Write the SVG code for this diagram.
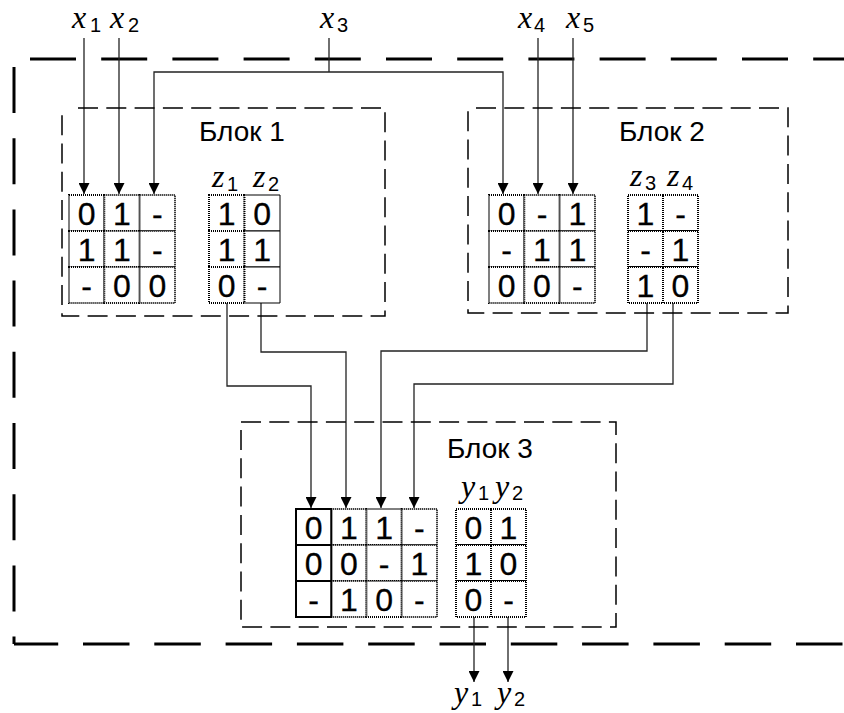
<svg xmlns="http://www.w3.org/2000/svg" width="844" height="713" viewBox="0 0 844 713">
<style>
.outer{fill:none;stroke:#000;stroke-width:3;stroke-dasharray:46 25.2}
.blk{fill:none;stroke:#000;stroke-width:1.5;stroke-dasharray:20 8.3}
.cell{fill:#fff;stroke:#000;stroke-width:2;stroke-dasharray:1 1}
.d{font-family:"Liberation Sans",Arial,sans-serif;font-size:32px;text-anchor:middle;fill:#000;stroke:#000;stroke-width:0.3}
.lbl{font-family:"Liberation Sans",Arial,sans-serif;font-size:28px;fill:#000}
.v{font-family:"Liberation Serif","Times New Roman",serif;font-style:italic;font-size:32px;fill:#000}
.s{font-family:"Liberation Sans",Arial,sans-serif;font-style:normal;font-size:20px}
.c{fill:none;stroke:#222;stroke-width:1.3}
</style>
<defs>
<marker id="ar" markerUnits="userSpaceOnUse" markerWidth="11" markerHeight="11" refX="11" refY="5.5" orient="auto">
<path d="M0 0 L11 5.5 L0 11 Z" fill="#000"/>
</marker>
</defs>
<rect width="844" height="713" fill="#fff"/>
<g id="outer-border">
<path class="outer" d="M14 59 H844" style="stroke-dashoffset:55.2"/>
<path class="outer" d="M14 59 V644" style="stroke-dashoffset:63.2"/>
<path class="outer" d="M14 644 H844" style="stroke-dasharray:46.5 24.8;stroke-dashoffset:2.3"/>
</g>
<g id="connectors">
<path class="c" d="M84 38 V194" marker-end="url(#ar)"/>
<path class="c" d="M119 38 V194" marker-end="url(#ar)"/>
<path class="c" d="M329 38 V72"/>
<path class="c" d="M329 72 H154 V194" marker-end="url(#ar)"/>
<path class="c" d="M329 72 H503 V194" marker-end="url(#ar)"/>
<path class="c" d="M538 38 V194" marker-end="url(#ar)"/>
<path class="c" d="M573 38 V194" marker-end="url(#ar)"/>
<path class="c" d="M227 303 V386 H311 V508" marker-end="url(#ar)"/>
<path class="c" d="M261 303 V352 H346 V508" marker-end="url(#ar)"/>
<path class="c" d="M647 303 V351 H381 V508" marker-end="url(#ar)"/>
<path class="c" d="M673 303 V384 H414 V508" marker-end="url(#ar)"/>
<path class="c" d="M474 617 V682" marker-end="url(#ar)"/>
<path class="c" d="M508 617 V682" marker-end="url(#ar)"/>
</g>
<g id="inputs">
<text class="v" x="72" y="28">x<tspan class="s" x="90" y="32">1</tspan></text>
<text class="v" x="110" y="28">x<tspan class="s" x="128" y="32">2</tspan></text>
<text class="v" x="320" y="28">x<tspan class="s" x="337" y="32">3</tspan></text>
<text class="v" x="518" y="28">x<tspan class="s" x="534" y="32">4</tspan></text>
<text class="v" x="566" y="28">x<tspan class="s" x="583" y="32">5</tspan></text>
</g>
<g id="block1">
<path class="blk" d="M78 108 H385 V316 H62 V108"/>
<text class="lbl" x="199" y="141">Блок 1</text>
<text class="v" x="212" y="187">z<tspan class="s" x="227" y="191">1</tspan></text>
<text class="v" x="253" y="187">z<tspan class="s" x="268" y="191">2</tspan></text>
<g>
<rect class="cell" x="69" y="195" width="35.3" height="36"/><rect class="cell" x="104.3" y="195" width="35.4" height="36"/><rect class="cell" x="139.7" y="195" width="35.3" height="36"/>
<rect class="cell" x="69" y="231" width="35.3" height="36"/><rect class="cell" x="104.3" y="231" width="35.4" height="36"/><rect class="cell" x="139.7" y="231" width="35.3" height="36"/>
<rect class="cell" x="69" y="267" width="35.3" height="36"/><rect class="cell" x="104.3" y="267" width="35.4" height="36"/><rect class="cell" x="139.7" y="267" width="35.3" height="36"/>
<text class="d" x="86.7" y="225">0</text><text class="d" x="122" y="225">1</text><text class="d" x="157.3" y="225">-</text>
<text class="d" x="86.7" y="261">1</text><text class="d" x="122" y="261">1</text><text class="d" x="157.3" y="261">-</text>
<text class="d" x="86.7" y="297">-</text><text class="d" x="122" y="297">0</text><text class="d" x="157.3" y="297">0</text>
</g>
<g>
<rect class="cell" x="209" y="195" width="35.5" height="36"/><rect class="cell" x="244.5" y="195" width="35.5" height="36"/>
<rect class="cell" x="209" y="231" width="35.5" height="36"/><rect class="cell" x="244.5" y="231" width="35.5" height="36"/>
<rect class="cell" x="209" y="267" width="35.5" height="36"/><rect class="cell" x="244.5" y="267" width="35.5" height="36"/>
<text class="d" x="226.7" y="225">1</text><text class="d" x="262.2" y="225">0</text>
<text class="d" x="226.7" y="261">1</text><text class="d" x="262.2" y="261">1</text>
<text class="d" x="226.7" y="297">0</text><text class="d" x="262.2" y="297">-</text>
</g>
</g>
<g id="block2">
<path class="blk" d="M476 108 H788 V313 H468 V108"/>
<text class="lbl" x="619" y="141">Блок 2</text>
<text class="v" x="630" y="186">z<tspan class="s" x="645" y="190">3</tspan></text>
<text class="v" x="667" y="186">z<tspan class="s" x="682" y="190">4</tspan></text>
<g>
<rect class="cell" x="489" y="195" width="35.3" height="36"/><rect class="cell" x="524.3" y="195" width="35.4" height="36"/><rect class="cell" x="559.7" y="195" width="35.3" height="36"/>
<rect class="cell" x="489" y="231" width="35.3" height="36"/><rect class="cell" x="524.3" y="231" width="35.4" height="36"/><rect class="cell" x="559.7" y="231" width="35.3" height="36"/>
<rect class="cell" x="489" y="267" width="35.3" height="36"/><rect class="cell" x="524.3" y="267" width="35.4" height="36"/><rect class="cell" x="559.7" y="267" width="35.3" height="36"/>
<text class="d" x="506.7" y="225">0</text><text class="d" x="542" y="225">-</text><text class="d" x="577.3" y="225">1</text>
<text class="d" x="506.7" y="261">-</text><text class="d" x="542" y="261">1</text><text class="d" x="577.3" y="261">1</text>
<text class="d" x="506.7" y="297">0</text><text class="d" x="542" y="297">0</text><text class="d" x="577.3" y="297">-</text>
</g>
<g>
<rect class="cell" x="628" y="195" width="35" height="36"/><rect class="cell" x="663" y="195" width="35" height="36"/>
<rect class="cell" x="628" y="231" width="35" height="36"/><rect class="cell" x="663" y="231" width="35" height="36"/>
<rect class="cell" x="628" y="267" width="35" height="36"/><rect class="cell" x="663" y="267" width="35" height="36"/>
<text class="d" x="645.5" y="225">1</text><text class="d" x="680.5" y="225">-</text>
<text class="d" x="645.5" y="261">-</text><text class="d" x="680.5" y="261">1</text>
<text class="d" x="645.5" y="297">1</text><text class="d" x="680.5" y="297">0</text>
</g>
</g>
<g id="block3">
<path class="blk" d="M241 422 H616 V627 H241 Z"/>
<text class="lbl" x="447" y="458">Блок 3</text>
<text class="v" x="461" y="497">y<tspan class="s" x="478" y="500">1</tspan></text>
<text class="v" x="495" y="497">y<tspan class="s" x="512" y="500">2</tspan></text>
<g>
<rect class="cell" x="331.25" y="509" width="35.25" height="36"/><rect class="cell" x="366.5" y="509" width="35.25" height="36"/><rect class="cell" x="401.75" y="509" width="35.25" height="36"/>
<rect class="cell" x="331.25" y="545" width="35.25" height="36"/><rect class="cell" x="366.5" y="545" width="35.25" height="36"/><rect class="cell" x="401.75" y="545" width="35.25" height="36"/>
<rect class="cell" x="331.25" y="581" width="35.25" height="36"/><rect class="cell" x="366.5" y="581" width="35.25" height="36"/><rect class="cell" x="401.75" y="581" width="35.25" height="36"/>
<rect class="cell" x="296" y="509" width="35.25" height="36" style="stroke-dasharray:none"/>
<rect class="cell" x="296" y="545" width="35.25" height="36" style="stroke-dasharray:none"/>
<rect class="cell" x="296" y="581" width="35.25" height="36" style="stroke-dasharray:none"/>
<text class="d" x="313.6" y="539">0</text><text class="d" x="348.9" y="539">1</text><text class="d" x="384.1" y="539">1</text><text class="d" x="419.4" y="539">-</text>
<text class="d" x="313.6" y="575">0</text><text class="d" x="348.9" y="575">0</text><text class="d" x="384.1" y="575">-</text><text class="d" x="419.4" y="575">1</text>
<text class="d" x="313.6" y="611">-</text><text class="d" x="348.9" y="611">1</text><text class="d" x="384.1" y="611">0</text><text class="d" x="419.4" y="611">-</text>
</g>
<g>
<rect class="cell" x="456" y="509" width="35" height="36"/><rect class="cell" x="491" y="509" width="35" height="36"/>
<rect class="cell" x="456" y="545" width="35" height="36"/><rect class="cell" x="491" y="545" width="35" height="36"/>
<rect class="cell" x="456" y="581" width="35" height="36"/><rect class="cell" x="491" y="581" width="35" height="36"/>
<text class="d" x="473.5" y="539">0</text><text class="d" x="508.5" y="539">1</text>
<text class="d" x="473.5" y="575">1</text><text class="d" x="508.5" y="575">0</text>
<text class="d" x="473.5" y="611">0</text><text class="d" x="508.5" y="611">-</text>
</g>
</g>
<g id="outputs">
<text class="v" x="454" y="703">y<tspan class="s" x="471" y="706">1</tspan></text>
<text class="v" x="497" y="703">y<tspan class="s" x="514" y="706">2</tspan></text>
</g>
</svg>
